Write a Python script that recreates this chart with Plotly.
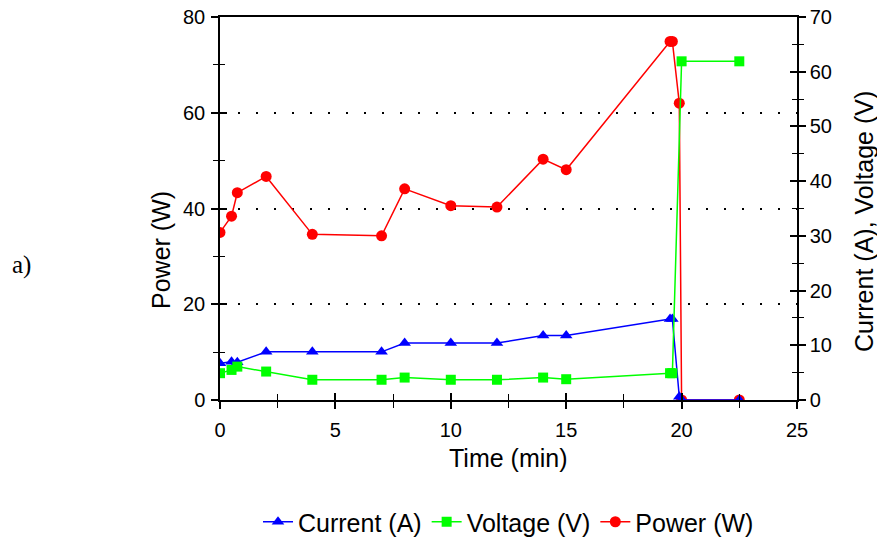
import plotly.graph_objects as go

# ---- data ----
t_current = [0, 0.5, 0.75, 2, 4, 7, 8, 10, 12, 14, 15, 19.5, 19.6, 19.9, 20.0, 22.5]
current = [6.7, 7.0, 6.9, 8.8, 8.8, 8.8, 10.4, 10.4, 10.4, 11.8, 11.8, 14.8, 14.8, 0.6, 0, 0]

t_voltage = [0, 0.5, 0.75, 2, 4, 7, 8, 10, 12, 14, 15, 19.5, 19.6, 20.0, 22.5]
voltage = [4.9, 5.5, 6.1, 5.2, 3.7, 3.7, 4.1, 3.7, 3.7, 4.1, 3.8, 4.9, 4.9, 61.9, 61.9]

t_power = [0, 0.5, 0.75, 2, 4, 7, 8, 10, 12, 14, 15, 19.5, 19.6, 19.9, 20.0, 22.5]
power = [35.0, 38.4, 43.3, 46.7, 34.6, 34.3, 44.1, 40.6, 40.3, 50.3, 48.1, 74.9, 74.9, 62.0, 0, 0]

x_range = [0, 25]
left_range = [0, 80]
right_range = [0, 70]
x_ticks = [0, 5, 10, 15, 20, 25]
x_minor = [2.5, 7.5, 12.5, 17.5, 22.5]
left_ticks = [0, 20, 40, 60, 80]
left_minor = [10, 30, 50, 70]
right_ticks = [0, 10, 20, 30, 40, 50, 60, 70]
right_minor = [5, 15, 25, 35, 45, 55, 65]

FONT = "Liberation Sans, Arial, sans-serif"

fig = go.Figure()

fig.add_trace(go.Scatter(
    x=t_current, y=current, name="Current (A)", mode="lines+markers",
    line=dict(color="#0000FF", width=1.5),
    marker=dict(symbol="triangle-up", size=11, color="#0000FF"),
    xaxis="x", yaxis="y2"))
fig.add_trace(go.Scatter(
    x=t_voltage, y=voltage, name="Voltage (V)", mode="lines+markers",
    line=dict(color="#00FF00", width=1.5),
    marker=dict(symbol="square", size=10, color="#00FF00"),
    xaxis="x", yaxis="y2"))
fig.add_trace(go.Scatter(
    x=t_power, y=power, name="Power (W)", mode="lines+markers",
    line=dict(color="#FF0000", width=1.5),
    marker=dict(symbol="circle", size=11, color="#FF0000"),
    xaxis="x", yaxis="y"))

# empty helper traces so the inner-tick overlay axes get drawn (cross ticks)
fig.add_trace(go.Scatter(x=[], y=[], xaxis="x2", yaxis="y", showlegend=False, hoverinfo="skip"))
fig.add_trace(go.Scatter(x=[], y=[], xaxis="x", yaxis="y3", showlegend=False, hoverinfo="skip"))
fig.add_trace(go.Scatter(x=[], y=[], xaxis="x", yaxis="y4", showlegend=False, hoverinfo="skip"))

tickfont = dict(family=FONT, size=20, color="black")
titlefont = dict(family=FONT, size=25, color="black")


def major(ticks, where, ln=7):
    return dict(tickvals=ticks, ticks=where, ticklen=ln, tickwidth=1.5, tickcolor="black")


def minor(ticks, where, ln=5):
    return dict(tickvals=ticks, ticks=where, ticklen=ln, tickwidth=1.2, tickcolor="black")


fig.update_layout(
    width=877, height=540,
    margin=dict(l=220, r=80, t=17, b=140, autoexpand=False),
    paper_bgcolor="white", plot_bgcolor="white",
    font=dict(family=FONT, color="black"),
    showlegend=True,
    legend=dict(orientation="h", x=0.5, xanchor="center", xref="paper",
                yref="container", y=1 - 522 / 540, yanchor="middle",
                font=dict(family=FONT, size=25, color="black"),
                itemwidth=30, bgcolor="rgba(0,0,0,0)"),
    xaxis=dict(range=x_range, **major(x_ticks, "outside"),
               minor=minor(x_minor, "outside", 6),
               showline=True, linecolor="black", linewidth=1.5, mirror=True,
               showgrid=False, zeroline=False, tickfont=tickfont, ticklabelstandoff=4),
    xaxis2=dict(range=x_range, overlaying="x", anchor="y", side="bottom",
                **major(x_ticks, "inside"), minor=minor(x_minor, "inside", 6),
                showticklabels=False, showline=False, showgrid=False, zeroline=False),
    yaxis=dict(range=left_range, **major(left_ticks, "outside"),
               minor=minor(left_minor, "outside"),
               showline=True, linecolor="black", linewidth=1.5,
               showgrid=True, gridcolor="black", gridwidth=1.5, griddash="2px,16px",
               zeroline=False, tickfont=tickfont, ticklabelstandoff=2),
    yaxis2=dict(range=right_range, overlaying="y", side="right", anchor="x",
                **major(right_ticks, "outside"), minor=minor(right_minor, "outside"),
                showline=True, linecolor="black", linewidth=1.5,
                showgrid=False, zeroline=False, tickfont=tickfont),
    yaxis3=dict(range=right_range, overlaying="y", side="right", anchor="x",
                **major(right_ticks, "inside"), minor=minor(right_minor, "inside"),
                showticklabels=False, showline=False, showgrid=False, zeroline=False),
    yaxis4=dict(range=left_range, overlaying="y", side="left", anchor="x",
                **major(left_ticks, "inside"), minor=minor(left_minor, "inside"),
                showticklabels=False, showline=False, showgrid=False, zeroline=False),
)

PW = 877 - 220 - 80   # plot width in px
PH = 540 - 17 - 140   # plot height in px


def px(xp):
    return (xp - 220) / PW


def py(yp):
    return (400 - yp) / PH


# axis titles as annotations placed where the reference has them
fig.add_annotation(text="Time (min)", xref="paper", yref="paper", x=px(508), y=py(458),
                   xanchor="center", yanchor="middle", showarrow=False, font=titlefont)
fig.add_annotation(text="Power (W)", xref="paper", yref="paper", x=px(161), y=py(250),
                   xanchor="center", yanchor="middle", showarrow=False, textangle=-90,
                   font=titlefont)
fig.add_annotation(text="Current (A), Voltage (V)", xref="paper", yref="paper",
                   x=px(864), y=py(222), xanchor="center", yanchor="middle",
                   showarrow=False, textangle=-90, font=titlefont)
fig.add_annotation(text="a)", xref="paper", yref="paper", x=px(21), y=py(265),
                   xanchor="center", yanchor="middle", showarrow=False,
                   font=dict(family="Liberation Serif, Times New Roman, serif", size=25,
                             color="black"))

fig.write_html("out.html")
